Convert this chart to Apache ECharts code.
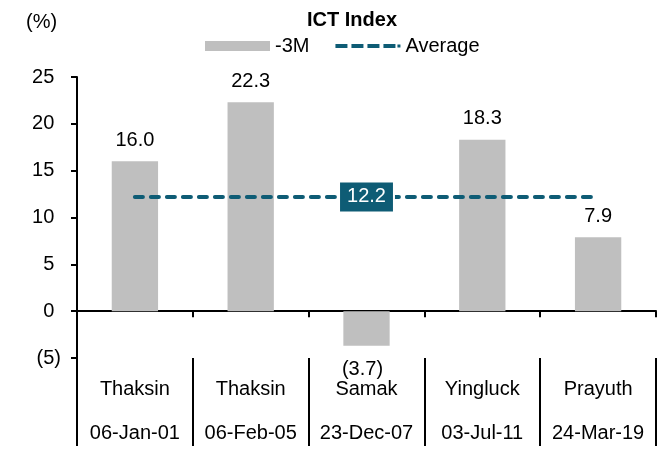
<!DOCTYPE html>
<html>
<head>
<meta charset="utf-8">
<script src="https://cdn.jsdelivr.net/npm/echarts@6/dist/echarts.min.js"></script>
<style>
  html, body { margin: 0; padding: 0; background: #fff; }
  #chart { width: 662px; height: 455px; }
</style>
</head>
<body>
<div id="chart"></div>
<script>
// data
const leaders = ['Thaksin', 'Thaksin', 'Samak', 'Yingluck', 'Prayuth'];
const dates = ['06-Jan-01', '06-Feb-05', '23-Dec-07', '03-Jul-11', '24-Mar-19'];
const change3M = [16.0, 22.3, -3.7, 18.3, 7.9];
const average = 12.2;
const averageLine = [average, average, average, average, average];

const TEAL = '#0E5C75';
const GREY = '#BFBFBF';
const FONT = 'Liberation Sans, Arial, sans-serif';

// accounting style: negatives in brackets
function fmt(v, digits) {
  let s = Math.abs(v).toFixed(digits);
  return v < 0 ? '(' + s + ')' : s;
}

const chart = echarts.init(document.getElementById('chart'));

let option = {
  animation: false,
  textStyle: { fontFamily: FONT, color: '#000' },
  title: {
    text: 'ICT Index',
    left: 307,
    top: 10,
    padding: 0,
    textStyle: { fontFamily: FONT, fontSize: 20, fontWeight: 'bold', color: '#000' }
  },
  graphic: [{
    type: 'text',
    left: 26,
    top: 12,
    style: { text: '(%)', font: '20px ' + FONT, fill: '#000' }
  }],
  legend: {
    left: 205,
    top: 36,
    padding: 0,
    itemWidth: 65,
    itemHeight: 10,
    itemGap: 26,
    textStyle: { fontFamily: FONT, fontSize: 20, color: '#000' },
    data: [
      { name: '-3M', icon: 'rect', itemStyle: { color: GREY } },
      {
        name: 'Average',
        icon: 'path://M0,0h12v4h-12zM16,0h12v4h-12zM32,0h12v4h-12zM48,0h12v4h-12zM62,0.5h3v3h-3z',
        itemStyle: { color: TEAL, borderWidth: 0 }
      }
    ]
  },
  grid: { left: 77, right: 6, top: 77, bottom: 97 },
  xAxis: [
    {
      type: 'category',
      data: dates,
      axisLine: { onZero: true, lineStyle: { color: '#000', width: 2 } },
      axisTick: { show: true, length: 6, lineStyle: { color: '#000', width: 2 } },
      axisLabel: { show: false },
      splitLine: { show: false }
    },
    {
      type: 'category',
      data: dates,
      position: 'bottom',
      axisLine: { show: false, onZero: false },
      axisTick: { show: true, length: 88, lineStyle: { color: '#000', width: 2 } },
      axisLabel: {
        margin: 9,
        interval: 0,
        formatter: (v, i) => '{n|' + leaders[i] + '}\n{d|' + v + '}',
        rich: {
          n: { fontFamily: FONT, fontSize: 20, lineHeight: 44, color: '#000' },
          d: { fontFamily: FONT, fontSize: 20, lineHeight: 44, color: '#000' }
        }
      },
      splitLine: { show: false }
    }
  ],
  yAxis: {
    type: 'value',
    min: -5,
    max: 25,
    interval: 5,
    axisLine: { show: true, lineStyle: { color: '#000', width: 2 } },
    axisTick: { show: true, length: 6, lineStyle: { color: '#000', width: 2 } },
    splitLine: { show: false },
    axisLabel: {
      margin: 16,
      fontFamily: FONT,
      fontSize: 20,
      color: '#000',
      // keep digits aligned: positives get an invisible closing bracket
      formatter: v => v < 0 ? fmt(v, 0) : v + '{h|)}',
      rich: { h: { color: 'rgba(0,0,0,0)', fontFamily: FONT, fontSize: 20 } }
    }
  },
  series: [
    {
      name: '-3M',
      type: 'bar',
      barWidth: '40%',
      itemStyle: { color: GREY },
      label: {
        show: true,
        position: 'outside',
        distance: 11,
        fontFamily: FONT,
        fontSize: 20,
        color: '#000',
        formatter: p => fmt(p.value, 1)
      },
      data: change3M.map(v => v < 0 ? { value: v, label: { distance: 0, offset: [-4, 14] } } : v)
    },
    {
      name: 'Average',
      type: 'line',
      symbol: 'circle',
      symbolSize: 0,
      showSymbol: true,
      color: TEAL,
      z: 3,
      lineStyle: { color: TEAL, width: 4, type: [8, 8], cap: 'round' },
      label: { show: false },
      data: averageLine.map((v, i) => i === 2 ? {
        value: v,
        label: {
          show: true,
          position: 'inside',
          formatter: p => p.value.toFixed(1),
          fontFamily: FONT,
          fontSize: 20,
          color: '#fff',
          backgroundColor: TEAL,
          borderColor: '#fff',
          borderWidth: 2,
          padding: [5, 7, 4, 7]
        }
      } : v)
    }
  ]
};

chart.setOption(option);
</script>
</body>
</html>
